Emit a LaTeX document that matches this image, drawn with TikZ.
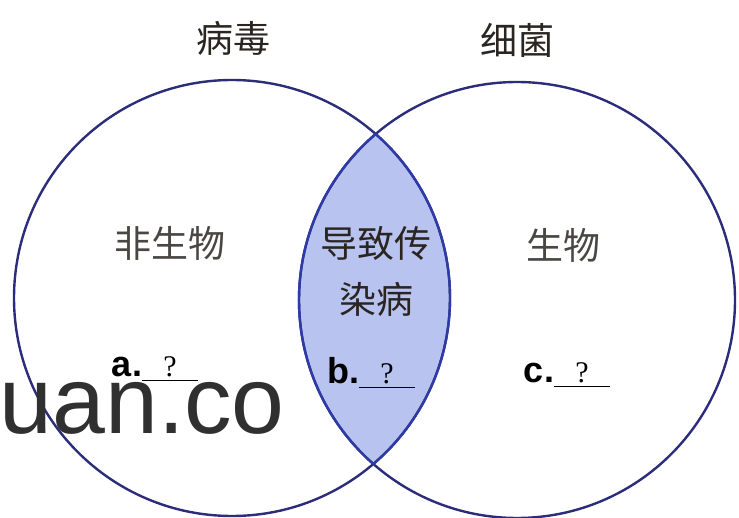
\documentclass[tikz,border=0pt]{standalone}
\usepackage{fontspec}
\setmainfont{Liberation Serif}
\setsansfont{Liberation Sans}
\newfontfamily\cjk{Noto Sans CJK SC}
\usetikzlibrary{positioning}

\definecolor{setline}{HTML}{2B2C7A}
\definecolor{lensfill}{HTML}{B8C3F0}
\definecolor{lensline}{HTML}{2E3AA6}
\definecolor{inkdark}{HTML}{2A2520}
\definecolor{markgray}{HTML}{303030}

\newcommand{\blankline}[1]{{\sffamily\bfseries #1.}\makebox[0pt][l]{\rule[-4pt]{56pt}{1.3pt}}\makebox[56pt]{\fontsize{30}{30}\selectfont\rmfamily ?}}

\begin{document}
\begin{tikzpicture}[
    x=1pt, y=-1pt,
    set/.style={draw=setline, line width=2.4pt},
    title/.style={font=\fontsize{37}{37}\selectfont\cjk, text=inkdark},
    region/.style={font=\fontsize{37}{37}\selectfont\cjk, text=inkdark!85, align=center},
    blank/.style={font=\fontsize{36}{36}\selectfont, text=black, anchor=base, inner sep=0pt}
]
\useasboundingbox (0,0) rectangle (739,518);

% Circle centres
\coordinate (virus) at (232,298);
\coordinate (bact) at (517,300);

% Overlap
\begin{scope}
  \clip (virus) circle [radius=218pt];
  \fill[lensfill] (bact) circle [radius=218pt];
\end{scope}

% Circles
\draw[set] (virus) circle [radius=218pt];
\draw[set] (bact) circle [radius=218pt];
\begin{scope}
  \clip (virus) circle [radius=218pt];
  \draw[set, draw=lensline] (bact) circle [radius=218pt];
\end{scope}
\begin{scope}
  \clip (bact) circle [radius=218pt];
  \draw[set, draw=lensline] (virus) circle [radius=218pt];
\end{scope}

% Titles
\node[title] (tvirus) at (233,38) {病毒};
\node[title] (tbact) at (517,40) {细菌};

% Regions
\node[region] (nonliving) at (170,243) {非生物};
\node[region] (living) at (563,245) {生物};
\node[region, text=inkdark, font=\fontsize{37}{56}\selectfont\cjk] (common) at (376,271) {导致传\\染病};

% Blanks
\node[blank] (qa) at (155,377) {\blankline{a}};
\node[blank] (qb) at (371,384) {\blankline{b}};
\node[blank] (qc) at (567,383) {\blankline{c}};

% Mark
\node[font=\fontsize{95}{95}\selectfont\sffamily, text=markgray, anchor=base east, inner sep=0pt] (mark) at (285,433) {uan.co};

\end{tikzpicture}
\end{document}
